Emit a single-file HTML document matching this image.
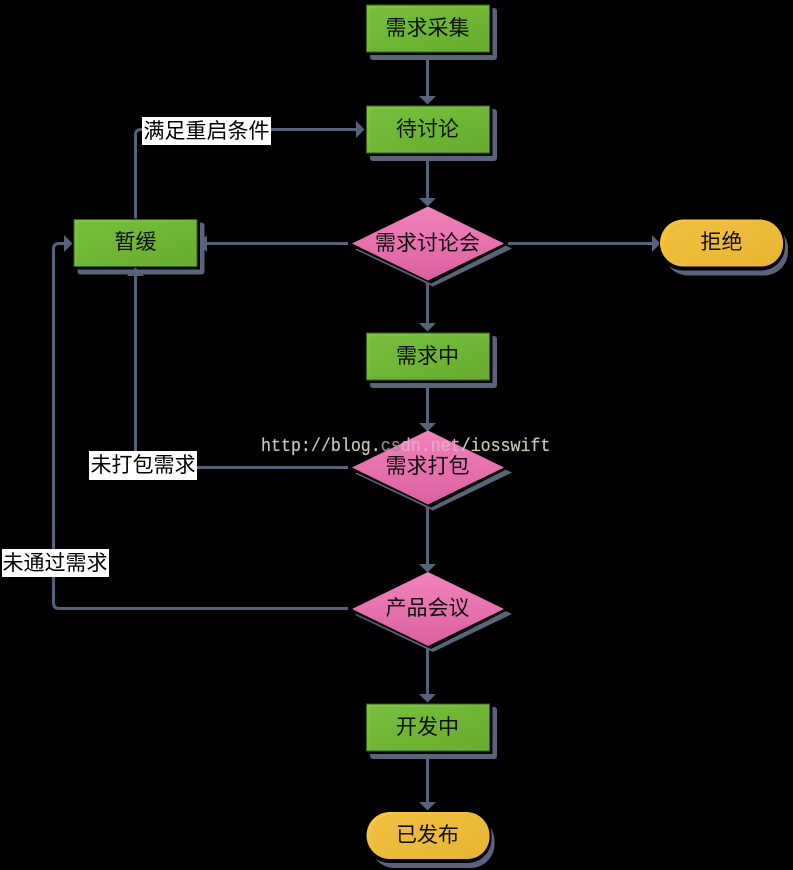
<!DOCTYPE html>
<html><head><meta charset="utf-8"><style>
html,body{margin:0;padding:0;background:#000;width:793px;height:870px;overflow:hidden}
svg{display:block}
.t{font-family:"Liberation Sans","WenQuanYi Zen Hei","Noto Sans CJK SC",sans-serif;font-size:21px;text-anchor:middle;fill:#0c0c0c}
.l{fill:#000}
.w{font-family:"Liberation Mono",monospace;font-size:18.5px;fill:#c8c8b8;stroke:#c8c8b8;stroke-width:.2}
.c{fill:none;stroke:#56627a;stroke-width:3}
.a{fill:#56627a}
</style></head><body>
<svg width="793" height="870" viewBox="0 0 793 870" xmlns="http://www.w3.org/2000/svg">
<defs>
<linearGradient id="g" x1="0" y1="0" x2="1" y2="1"><stop offset="0" stop-color="#7cc83e"/><stop offset="1" stop-color="#6ab030"/></linearGradient>
<linearGradient id="g2" x1="0" y1="0" x2="1" y2="1"><stop offset="0" stop-color="#76be3b"/><stop offset="1" stop-color="#68ad2e"/></linearGradient>
<linearGradient id="p" x1="0" y1="0" x2="0" y2="1"><stop offset="0" stop-color="#f383bd"/><stop offset="1" stop-color="#db5fa0"/></linearGradient>
<linearGradient id="y" x1="0" y1="0" x2="1" y2="1"><stop offset="0" stop-color="#fbc83a"/><stop offset="1" stop-color="#e8b52f"/></linearGradient>
<linearGradient id="y2" x1="0" y1="0" x2="1" y2="1"><stop offset="0" stop-color="#efc040"/><stop offset="1" stop-color="#e8b52f"/></linearGradient>
<g id="rect">
<rect x="3.500" y="3" width="127" height="52" rx="3" fill="#5a6478"/>
<rect x="-1" y="-1" width="127" height="51" fill="#000"/>
<rect x="0" y="0" width="123" height="47" fill="url(#g)" stroke="#35601c" stroke-width="1"/>
<rect x="3" y="3" width="119" height="43" rx="3" fill="url(#g2)"/>
</g>
<g id="dia">
<polygon points="-73,6 5,-31 84,5 5,43" fill="#5a6478"/>
<polygon points="-76,3 0,-34 80,1 3,40" fill="#000"/>
<polygon points="-76,0 0,-37 76,0 0,37" fill="url(#p)"/>
</g>
<g id="pill">
<rect x="4" y="5" width="124" height="51" rx="24" fill="#5a6478"/>
<rect x="-1" y="-1" width="126" height="52" rx="24" fill="#000"/>
<rect x="0" y="0" width="123" height="47" rx="23.500" fill="url(#y)"/>
<rect x="4" y="2" width="119" height="45" rx="22" fill="url(#y2)"/>
</g>
</defs>
<rect width="793" height="870" fill="#000"/>

<!-- connectors -->
<path class="c" d="M427.500 52V97M427.500 153V198M427.500 280V324M427.500 380V424M427.500 504V565M427.500 646V695M427.500 751V803"/>
<path class="a" d="M419 96h17l-8.500 8.500zM419 198h17l-8.500 8.500zM419 323h17l-8.500 8.500zM419 423h17l-8.500 8.500zM419 564h17l-8.500 8.500zM419 694h17l-8.500 8.500zM419 802h17l-8.500 8.500z"/>
<path class="c" d="M135.500 219V135Q135.500 129.500 141 129.500H357"/>
<path class="a" d="M356 121v17l8.500-8.500z"/>
<path class="c" d="M348 243.500H206M508 243.500H652"/>
<path class="a" d="M207 235v17l-8.500-8.500zM652 235v17l8.500-8.500z"/>
<path class="c" d="M348 608.500H59Q53.500 608.500 53.500 603V249Q53.500 243.500 59 243.500H65"/>
<path class="a" d="M64 235v17l8.500-8.500z"/>

<!-- nodes -->
<use href="#rect" x="366.500" y="5"/>
<use href="#rect" x="366.500" y="106"/>
<use href="#rect" x="366.500" y="333"/>
<use href="#rect" x="366.500" y="704"/>
<use href="#rect" x="74" y="219.500"/>
<use href="#pill" x="660" y="219.500"/>
<use href="#pill" x="366.500" y="812"/>
<use href="#dia" x="428" y="243.500"/>
<use href="#dia" x="428" y="467.500"/>
<use href="#dia" x="428" y="609"/>

<path class="c" d="M348 467.500H141Q135.500 467.500 135.500 462V275"/>
<path class="a" d="M127 276h17l-8.500-8.500z"/>

<!-- labels -->
<rect x="142" y="117" width="129" height="28" fill="#fff"/>
<rect x="89" y="451" width="108" height="29" fill="#fff"/>
<rect x="2" y="549" width="107" height="28" fill="#fff"/>
<text class="t l" x="206.500" y="138">满足重启条件</text>
<text class="t l" x="143" y="472">未打包需求</text>
<text class="t l" x="55" y="570">未通过需求</text>

<text class="t" x="427.500" y="35">需求采集</text>
<text class="t" x="427.500" y="136">待讨论</text>
<text class="t" x="135.500" y="249">暂缓</text>
<text class="t" x="427.500" y="250">需求讨论会</text>
<text class="t" x="721.500" y="249">拒绝</text>
<text class="t" x="427.500" y="363">需求中</text>
<text class="t" x="427.500" y="473">需求打包</text>
<text class="t" x="427.500" y="615">产品会议</text>
<text class="t" x="427.500" y="734">开发中</text>
<text class="t" x="427.500" y="842">已发布</text>

<text class="w" transform="translate(261 451) scale(.9 1)">http://blog.<tspan style="fill:#8f8f85;stroke:#8f8f85">c</tspan><tspan style="fill:#a08a98;stroke:#a08a98">s</tspan><tspan style="fill:#e8a8ca;stroke:#e8a8ca">dn.net</tspan>/iosswift</text>
</svg>
</body></html>
